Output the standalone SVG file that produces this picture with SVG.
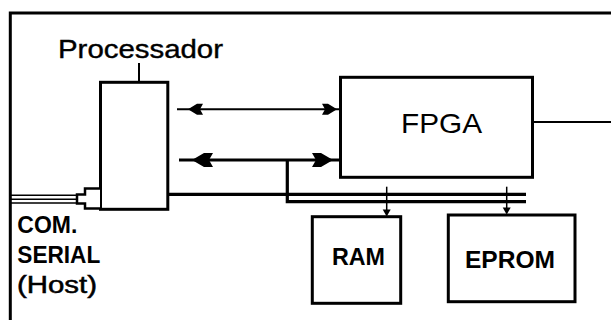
<svg xmlns="http://www.w3.org/2000/svg" width="611" height="320" viewBox="0 0 611 320">
<style>
.box{fill:#fff;stroke:#000;stroke-width:3}
.ln{fill:none;stroke:#000}
.t{font-family:"Liberation Sans",Arial,sans-serif;fill:#000}
.b{font-weight:bold}
</style>
<defs>
<path id="hs" d="M0,0 L-9,-5.5 L-15,-5.5 L-12,0 L-15,5.5 L-9,5.5 Z" fill="#000"/>
<path id="hl" d="M0,0 L-12,-7 L-21,-7 L-17,0 L-21,7 L-12,7 Z" fill="#000"/>
<path id="hd" d="M0,0 L-4,-7 L4,-7 Z" fill="#000"/>
</defs>
<rect width="611" height="320" fill="#fff"/>
<g id="frame">
<path class="ln" d="M10.3,320 V13 H611" stroke-width="3"/>
</g>
<g id="processador">
<rect class="box" x="100.5" y="82.3" width="67.3" height="127"/>
<path class="ln" d="M139,63 V82" stroke-width="2"/>
<text class="t" x="58" y="58" font-size="26" stroke="#000" stroke-width="0.4" textLength="165" lengthAdjust="spacingAndGlyphs">Processador</text>
</g>
<g id="fpga">
<rect class="box" x="340.5" y="77.3" width="192" height="100"/>
<text class="t" x="401" y="133" font-size="28" textLength="81" lengthAdjust="spacingAndGlyphs">FPGA</text>
</g>
<g id="ram">
<rect class="box" x="312.3" y="216.7" width="88.4" height="86.6"/>
<text class="t b" x="332" y="265" font-size="23" textLength="53" lengthAdjust="spacingAndGlyphs">RAM</text>
</g>
<g id="eprom">
<rect class="box" x="448.3" y="215" width="126.7" height="86.7"/>
<text class="t b" x="465" y="268" font-size="23" textLength="90" lengthAdjust="spacingAndGlyphs">EPROM</text>
</g>
<g id="serial">
<path d="M100,188.5 H85 V194.5 H77 V203.5 H85 V208.5 H100" fill="#fff" stroke="#000" stroke-width="2.5"/>
<text class="t b" x="17.3" y="233.3" font-size="23" textLength="60" lengthAdjust="spacingAndGlyphs">COM.</text>
<text class="t b" x="17.3" y="263.3" font-size="23" textLength="83" lengthAdjust="spacingAndGlyphs">SERIAL</text>
<text class="t" x="17" y="292.5" font-size="23" stroke="#000" stroke-width="0.5" textLength="80" lengthAdjust="spacingAndGlyphs">(Host)</text>
</g>
<g id="connectors">
<path class="ln" d="M10,195.2 H77 M10,199.3 H77 M10,203 H77" stroke-width="1.6"/>
<path class="ln" d="M177,109.3 H339" stroke-width="2"/>
<use href="#hs" transform="translate(188,109.3) scale(-1,1)"/>
<use href="#hs" transform="translate(337,109.3)"/>
<path class="ln" d="M179,160 H339" stroke-width="3.2"/>
<use href="#hl" transform="translate(192,160) scale(-1,1)"/>
<use href="#hl" transform="translate(333,160)"/>
<path class="ln" d="M168,194.3 H526" stroke-width="3.2"/>
<path class="ln" d="M287.3,160 V201.7 H526" stroke-width="3.2"/>
<path class="ln" d="M532.5,122 H611" stroke-width="2.2"/>
<path class="ln" d="M386.7,186.7 V211" stroke-width="1.5"/>
<use href="#hd" transform="translate(386.7,216.5)"/>
<path class="ln" d="M506.7,186.7 V209" stroke-width="1.5"/>
<use href="#hd" transform="translate(506.7,214.5)"/>
</g>
</svg>
